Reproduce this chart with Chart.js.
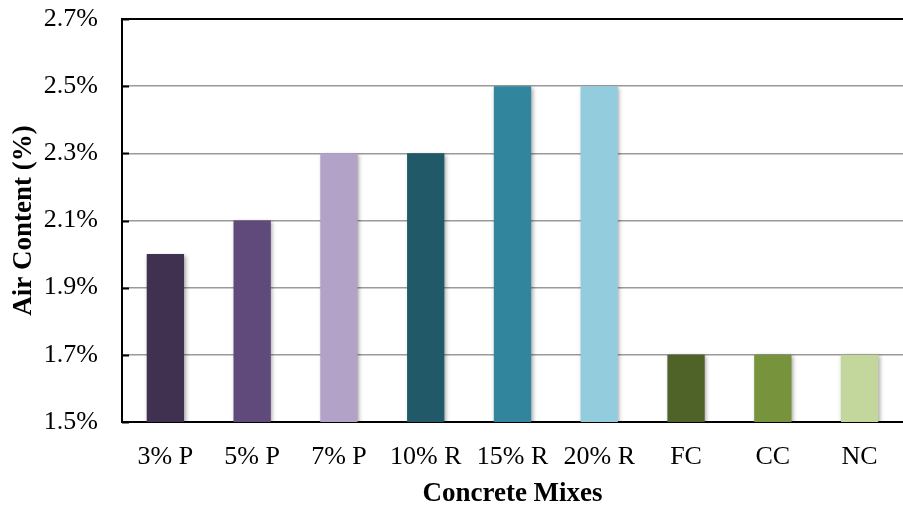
<!DOCTYPE html>
<html>
<head>
<meta charset="utf-8">
<script src="https://cdn.jsdelivr.net/npm/chart.js@4/dist/chart.umd.min.js"></script>
<style>
  html, body { margin: 0; padding: 0; background: #fff; }
  #wrap { width: 903px; height: 505px; position: relative; }
</style>
</head>
<body>
<div id="wrap"><canvas id="c"></canvas></div>
<script>
// Air content of each concrete mix, in percent
const mixes = ['3% P', '5% P', '7% P', '10% R', '15% R', '20% R', 'FC', 'CC', 'NC'];
const airContent = [2.0, 2.1, 2.3, 2.3, 2.5, 2.5, 1.7, 1.7, 1.7];
const barColors = ['#403151', '#604A7B', '#B3A2C7', '#215968', '#31859C', '#93CDDD', '#4F6228', '#77933C', '#C3D69B'];
const yTicks = [1.5, 1.7, 1.9, 2.1, 2.3, 2.5, 2.7];

const serif = '"Liberation Serif", "Times New Roman", serif';

// Soft drop shadow behind the bars
const barShadow = {
  id: 'barShadow',
  beforeDatasetsDraw(chart) {
    const ctx = chart.ctx;
    ctx.save();
    ctx.shadowColor = 'rgba(0,0,0,0.35)';
    ctx.shadowBlur = 4;
    ctx.shadowOffsetX = 1.5;
    ctx.shadowOffsetY = 1.5;
  },
  afterDatasetsDraw(chart) {
    chart.ctx.restore();
  }
};

// Short inward tick marks on the value axis and the black top rule
const axisMarks = {
  id: 'axisMarks',
  afterDraw(chart) {
    const ctx = chart.ctx;
    const y = chart.scales.y;
    const area = chart.chartArea;
    ctx.save();
    ctx.strokeStyle = '#000';
    ctx.lineWidth = 2;
    yTicks.forEach(v => {
      const py = Math.round(y.getPixelForValue(v)) + 0.5;
      ctx.beginPath();
      ctx.moveTo(area.left, py);
      ctx.lineTo(area.left + 7, py);
      ctx.stroke();
    });
    const top = Math.round(y.getPixelForValue(2.7));
    ctx.beginPath();
    ctx.moveTo(area.left, top);
    ctx.lineTo(area.right, top);
    ctx.stroke();
    ctx.restore();
  }
};

new Chart(document.getElementById('c'), {
  type: 'bar',
  data: {
    labels: mixes,
    datasets: [{
      data: airContent,
      backgroundColor: barColors,
      borderWidth: 0,
      barPercentage: 0.43,
      categoryPercentage: 1.0
    }]
  },
  options: {
    responsive: true,
    maintainAspectRatio: false,
    animation: false,
    layout: { padding: { top: 19, right: 0, left: 0, bottom: 0 } },
    plugins: {
      legend: { display: false },
      tooltip: { enabled: false }
    },
    scales: {
      x: {
        grid: { display: false, drawTicks: false },
        border: { color: '#000', width: 2 },
        ticks: {
          color: '#000',
          font: { family: serif, size: 26 },
          padding: 20,
          maxRotation: 0
        },
        title: {
          display: true,
          text: 'Concrete Mixes',
          color: '#000',
          font: { family: serif, size: 27, weight: 'bold' },
          padding: { top: 0, bottom: -5 }
        },
        afterFit(s) { s.height = 83; }
      },
      y: {
        min: 1.5,
        max: 2.7,
        afterBuildTicks(s) { s.ticks = yTicks.map(v => ({ value: v })); },
        grid: { color: '#9a9a9a', lineWidth: 1.5, drawTicks: false },
        border: { color: '#000', width: 2 },
        ticks: {
          color: '#000',
          font: { family: serif, size: 26 },
          padding: 24,
          callback: v => v.toFixed(1) + '%'
        },
        title: {
          display: true,
          text: 'Air Content (%)',
          color: '#000',
          font: { family: serif, size: 27, weight: 'bold' },
          padding: { top: 8, bottom: 0 }
        },
        afterFit(s) {
          s.width = 122;
          s.paddingTop = 0;
          s.paddingBottom = 0;
        }
      }
    }
  },
  plugins: [barShadow, axisMarks]
});
</script>
</body>
</html>
